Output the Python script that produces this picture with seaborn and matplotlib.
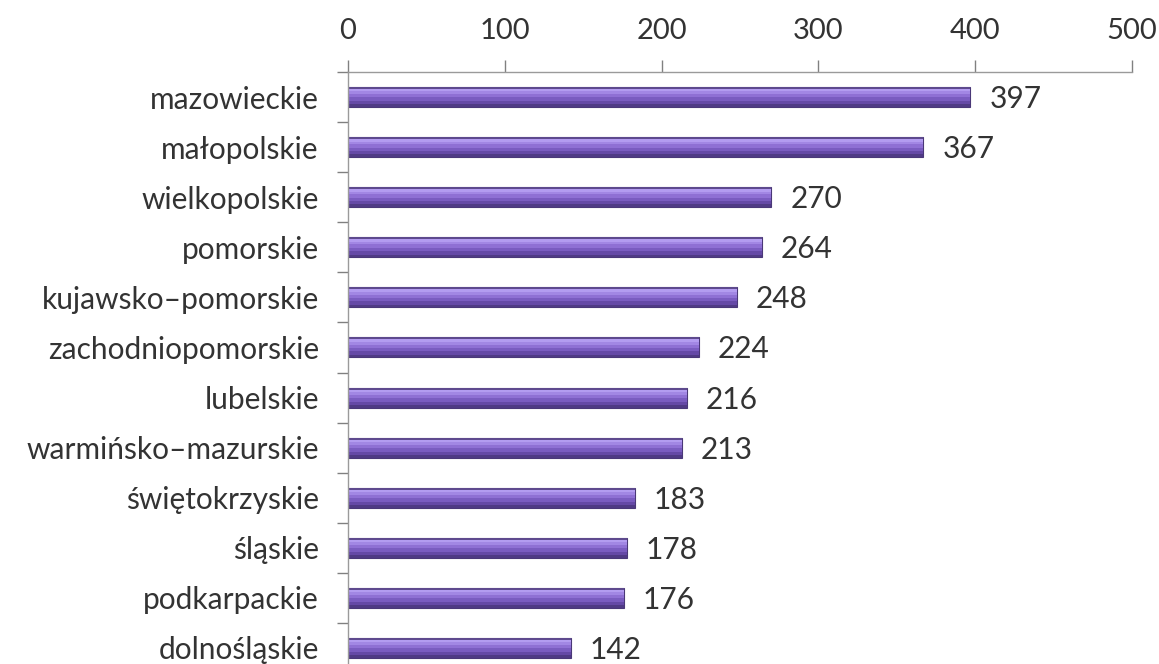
import matplotlib
matplotlib.use("Agg")
import matplotlib.pyplot as plt
import seaborn as sns
import pandas as pd

categories = ["mazowieckie", "małopolskie", "wielkopolskie", "pomorskie",
              "kujawsko–pomorskie", "zachodniopomorskie", "lubelskie",
              "warmińsko–mazurskie", "świętokrzyskie", "śląskie",
              "podkarpackie", "dolnośląskie"]
values = [397, 367, 270, 264, 248, 224, 216, 213, 183, 178, 176, 142]
x_ticks = [0, 100, 200, 300, 400, 500]

df = pd.DataFrame({"region": categories, "value": values})

sns.set_theme(style="white")
plt.rcParams["font.family"] = ["Lato", "DejaVu Sans"]

fig = plt.figure(figsize=(11.59, 6.64), dpi=100)
ax = fig.add_axes([348/1159, 1 - 673/664, (1132-348)/1159, (673-72)/664])

sns.barplot(data=df, y="region", x="value", orient="h", ax=ax,
            color="#8062c0", edgecolor="#4a3878", linewidth=0.8,
            width=0.4, saturation=1)

# vertical shading bands on each bar (top light -> bottom dark)
bands = [(0.00, 0.10, "#5e4a8e"), (0.10, 0.22, "#b39cf0"), (0.22, 0.36, "#a287e4"),
         (0.36, 0.52, "#8f70d4"), (0.52, 0.70, "#7a5cc0"), (0.70, 0.86, "#6549a6"),
         (0.86, 1.00, "#4f3a84")]
for p in ax.patches[:len(values)]:
    x0, y0 = p.get_x(), p.get_y()
    w, h = p.get_width(), p.get_height()
    for a, b, c in bands:
        ax.add_patch(plt.Rectangle((x0, y0 + h*a), w, h*(b - a),
                                   facecolor=c, edgecolor="none", zorder=p.get_zorder()+0.1))

for i, v in enumerate(values):
    ax.text(v + 12, i + 0.04, str(v), va="center", ha="left", fontsize=21.5, color="#333333")

ax.set_xlim(0, 500)
ax.set_ylim(len(categories) - 0.5, -0.5)
ax.set_xticks(x_ticks)
ax.set_xticklabels([str(t) for t in x_ticks])
ax.xaxis.tick_top()
ax.set_xlabel("")
ax.set_ylabel("")
ax.set_yticks([i + 0.5 for i in range(-1, len(categories))], minor=True)
ax.tick_params(axis="y", which="major", length=0, labelsize=21.5, pad=21, labelcolor="#333333")
ax.tick_params(axis="y", which="minor", length=8, color="#808080", width=1, left=True)
ax.tick_params(axis="x", length=9, color="#808080", width=1, labelsize=21, pad=11, labelcolor="#333333")
for s in ["right", "bottom"]:
    ax.spines[s].set_visible(False)
for s in ["top", "left"]:
    ax.spines[s].set_color("#9a9a9a")
    ax.spines[s].set_linewidth(1)

fig.savefig("out.png", dpi=100, facecolor="white")
